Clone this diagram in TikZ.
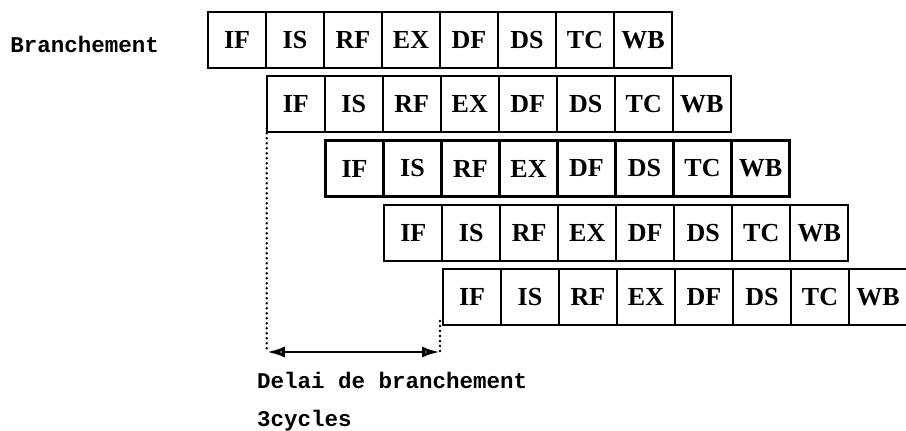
\documentclass[tikz,border=0pt]{standalone}
\usepackage{fontspec}
\setmainfont{Liberation Serif}
\newfontfamily\monofont{Liberation Mono}
\usetikzlibrary{positioning,arrows.meta}

\tikzset{
    stage/.style={draw, rectangle, line width=2.2pt, outer sep=0pt, inner sep=0pt,
        minimum width=58pt, minimum height=56pt,
        font=\fontsize{26}{28}\selectfont\bfseries},
    note/.style={font=\monofont\fontsize{22.5}{24}\selectfont\bfseries, inner sep=0pt, anchor=west},
    delay/.style={line width=2.6pt, line cap=round, dash pattern=on 0pt off 5pt},
    tip/.tip={Latex[open, length=18pt, width=11pt, line width=3pt]},
}

\begin{document}
\begin{tikzpicture}[x=1pt, y=-1pt]
    \useasboundingbox (0,0) rectangle (906,431);
    % the five instructions, each one cycle later
    \foreach \r in {1,...,5} {
        \node[stage] (r\r-1) at ({237+58.75*(\r-1)}, {40+64.25*(\r-1)}) {IF};
        \foreach \s [count=\i from 2] in {IS,RF,EX,DF,DS,TC,WB} {
            \pgfmathtruncatemacro\j{\i-1}
            \node[stage, right=0pt of r\r-\j] (r\r-\i) {\s};
        }
    }
    \node[note, left=49pt of r1-1, anchor=east, yshift=-4pt] (branch) {Branchement};

    % delai de branchement
    \coordinate (la) at (r2-1.south west |- 0,352);
    \coordinate (ra) at ([xshift=-3pt]r5-1.south west |- 0,352);
    \draw[delay] ([yshift=4pt]r2-1.south west) -- (la);
    \draw[delay] ([xshift=-3pt,yshift=4pt]r5-1.south west) -- (ra);
    \draw[line width=2.2pt, tip-tip] (la) -- (ra);
    \node[note] (delai) at (257,380) {Delai de branchement};
    \node[note] (cycles) at (257,421) {3cycles};
\end{tikzpicture}
\end{document}
